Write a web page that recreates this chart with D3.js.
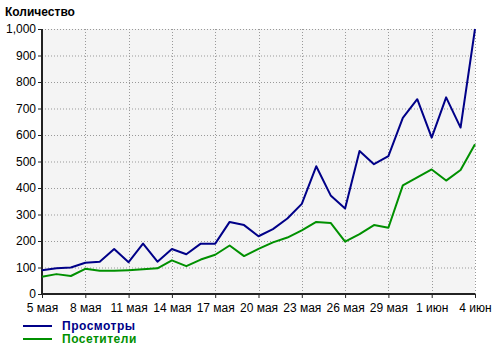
<!DOCTYPE html>
<html>
<head>
<meta charset="utf-8">
<script src="https://cdn.jsdelivr.net/npm/d3@7"></script>
<style>
  body { margin: 0; background: #fff; }
  svg { display: block; font-family: "Liberation Sans", Arial, sans-serif; }
</style>
</head>
<body>
<div id="chart"></div>
<script>
// Daily data, 5 May .. 4 Jun
const startDate = new Date(2010, 4, 5);
const views = [90, 97, 100, 118, 122, 170, 120, 190, 122, 170, 150, 190, 190, 272, 260, 218,
               245, 285, 340, 482, 372, 323, 540, 490, 520, 665, 735, 590, 742, 628, 1000];
const visitors = [65, 75, 68, 95, 88, 88, 90, 93, 97, 127, 105, 130, 148, 183, 143, 170,
                  195, 213, 240, 272, 268, 198, 226, 260, 250, 410, 440, 470, 428, 468, 565];
const yTicks = [0, 100, 200, 300, 400, 500, 600, 700, 800, 900, 1000];
const seriesNames = ["Просмотры", "Посетители"];
const seriesColors = ["#000088", "#009000"];

const W = 500, H = 351;
const margin = { top: 29, right: 25, bottom: 57, left: 42 };
const innerW = W - margin.left - margin.right;
const innerH = H - margin.top - margin.bottom;

const dates = views.map((_, i) => d3.timeDay.offset(startDate, i));

const svg = d3.select("#chart").append("svg")
    .attr("width", W)
    .attr("height", H);

const x = d3.scaleTime()
    .domain([dates[0], dates[dates.length - 1]])
    .range([0, innerW]);
const y = d3.scaleLinear()
    .domain([0, 1000])
    .range([innerH, 0]);

const g = svg.append("g")
    .attr("transform", `translate(${margin.left},${margin.top})`);

// plot background
g.append("rect")
    .attr("width", innerW)
    .attr("height", innerH)
    .attr("fill", "#f4f4f4");

const xTickDates = d3.range(0, 31, 3).map(i => dates[i]);
const monthsRu = ["янв", "фев", "мар", "апр", "мая", "июн", "июл", "авг", "сен", "окт", "ноя", "дек"];
const fmt = d => `${d.getDate()} ${monthsRu[d.getMonth()]}`;

// grid lines
g.append("g").selectAll("line")
    .data(yTicks.filter(v => v > 0))
    .join("line")
    .attr("x1", 0).attr("x2", innerW)
    .attr("y1", d => y(d) + 0.5).attr("y2", d => y(d) + 0.5)
    .attr("stroke", "#999")
    .attr("stroke-dasharray", "1,2");
g.append("g").selectAll("line")
    .data(xTickDates.slice(1))
    .join("line")
    .attr("x1", d => Math.round(x(d)) + 0.5).attr("x2", d => Math.round(x(d)) + 0.5)
    .attr("y1", 0).attr("y2", innerH)
    .attr("stroke", "#999")
    .attr("stroke-dasharray", "1,2");

// axes
const yAxis = g.append("g")
    .call(d3.axisLeft(y).tickValues(yTicks).tickSize(4).tickPadding(2).tickFormat(d3.format(",")));
const xAxis = g.append("g")
    .attr("transform", `translate(0,${innerH})`)
    .call(d3.axisBottom(x).tickValues(xTickDates).tickSize(4).tickPadding(5).tickFormat(fmt));

[yAxis, xAxis].forEach(a => {
    a.select(".domain").attr("stroke", "#222").attr("stroke-width", 2);
    a.selectAll(".tick line").attr("stroke", "#222");
    a.selectAll("text").attr("fill", "#000").style("font-size", "12px");
});
yAxis.select(".domain").attr("d", `M0,${innerH}V0`);
xAxis.select(".domain").attr("d", `M0,0H${innerW}`);

// lines
const line = d3.line()
    .x((d, i) => x(dates[i]))
    .y(d => y(d));

[views, visitors].forEach((s, k) => {
    g.append("path")
        .datum(s)
        .attr("fill", "none")
        .attr("stroke", seriesColors[k])
        .attr("stroke-width", 2)
        .attr("stroke-linejoin", "round")
        .attr("d", line);
});

// title
svg.append("text")
    .attr("x", 5)
    .attr("y", 16)
    .style("font-size", "12px")
    .style("font-weight", "bold")
    .text("Количество");

// legend
const legend = svg.append("g");
seriesNames.forEach((name, k) => {
    const ly = 326 + k * 13;
    legend.append("line")
        .attr("x1", 23).attr("x2", 52)
        .attr("y1", ly).attr("y2", ly)
        .attr("stroke", seriesColors[k])
        .attr("stroke-width", 2);
    legend.append("text")
        .attr("x", 62)
        .attr("y", ly + 4)
        .attr("fill", seriesColors[k])
        .style("font-size", "12px")
        .style("font-weight", "bold")
        .style("letter-spacing", "0.5px")
        .text(name);
});
</script>
</body>
</html>
